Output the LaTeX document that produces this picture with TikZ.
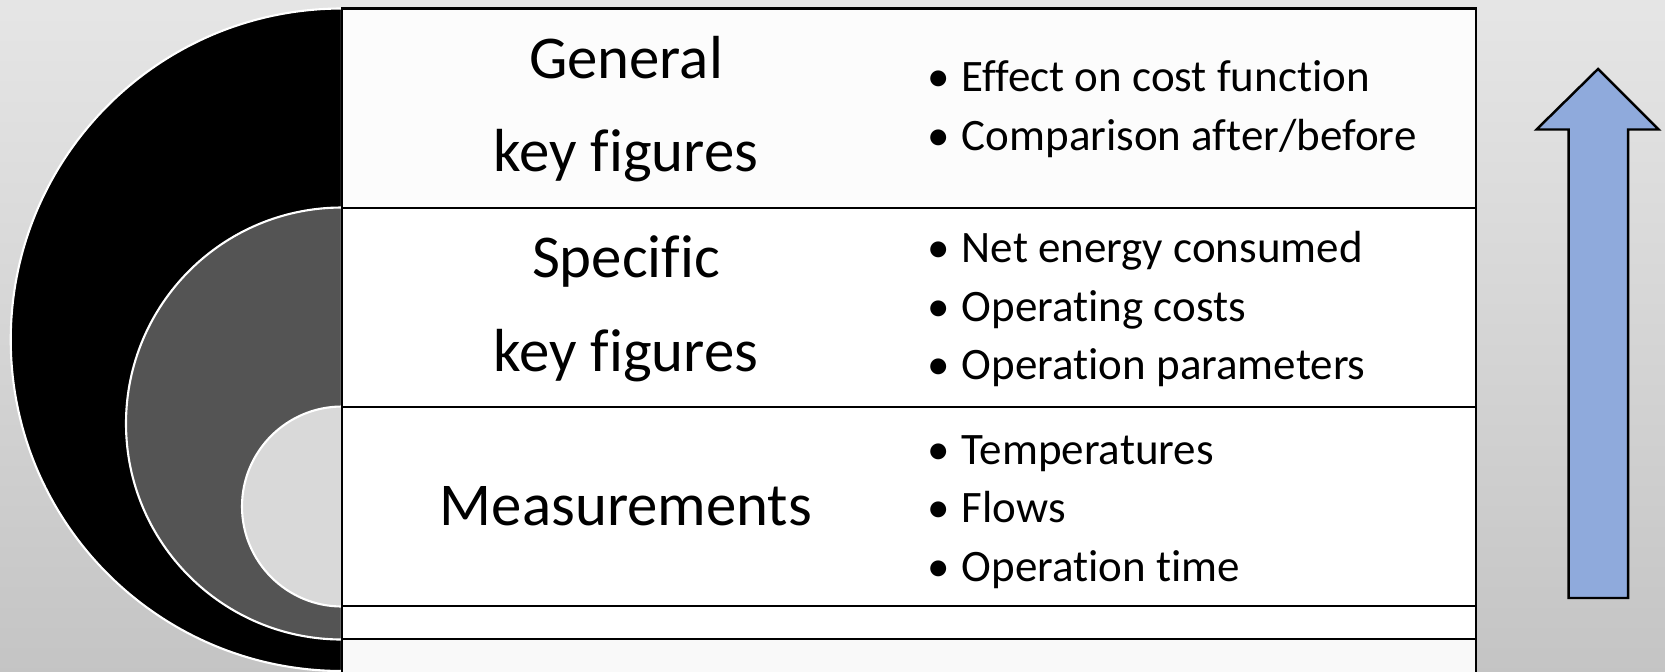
\documentclass[tikz,border=0pt]{standalone}
\usepackage{fontspec}
\setmainfont{Carlito}[Ligatures=NoCommon]
\usetikzlibrary{positioning}

\definecolor{arrowblue}{HTML}{8FAADC}
\definecolor{ringgrey}{HTML}{545454}
\definecolor{coregrey}{HTML}{D9D9D9}
\newcommand{\itm}[1]{\makebox[9.7pt][l]{\textbullet}#1}

\begin{document}
\begin{tikzpicture}[x=0.1mm, y=0.1mm,
  band/.style={draw=black, line width=0.7pt},
  ring/.style={draw=white, line width=0.6pt},
  title/.style={align=center, font=\fontsize{17.3}{26.6}\selectfont},
  items/.style={align=left, anchor=west, inner sep=0pt, font=\fontsize{12.8}{16.6}\selectfont}]
\useasboundingbox (0,0) rectangle (1665,671);
\shade[top color=gray!20, bottom color=gray!46] (0,0) rectangle (1665,671);
\filldraw[ring, fill=black] (342,662.5) arc[start angle=90, end angle=270, radius=331.25] -- cycle;
\filldraw[ring, fill=ringgrey] (342,463.5) arc[start angle=90, end angle=270, radius=216] -- cycle;
\filldraw[ring, fill=coregrey] (342,264.5) arc[start angle=90, end angle=270, radius=100] -- cycle;
\filldraw[band, fill=gray!2] (342,463) rectangle (1476,662.5);
\filldraw[band, fill=white] (342,264) rectangle (1476,463);
\filldraw[band, fill=white] (342,65) rectangle (1476,264);
\filldraw[band, fill=white] (342,32) rectangle (1476,65);
\filldraw[band, fill=gray!5] (342,-5) rectangle (1476,32);
\node[title] (general) at (626,562) {General\\key figures};
\node[title] (specific) at (626,362) {Specific\\key figures};
\node[title] (measure) at (626,164.5) {Measurements};
\node[items] (generalitems) at (927,562) {\itm{Effect on cost function}\\\itm{Comparison after/before}};
\node[items] (specificitems) at (927,362) {\itm{Net energy consumed}\\\itm{Operating costs}\\\itm{Operation parameters}};
\node[items] (measureitems) at (927,159) {\itm{Temperatures}\\\itm{Flows}\\\itm{Operation time}};
\filldraw[fill=arrowblue, draw=black, line width=0.7pt] (1568.5,73) -- (1568.5,541.5) -- (1536.5,541.5) -- (1598,602) -- (1658.5,541.5) -- (1628,541.5) -- (1628,73) -- cycle;
\end{tikzpicture}
\end{document}
